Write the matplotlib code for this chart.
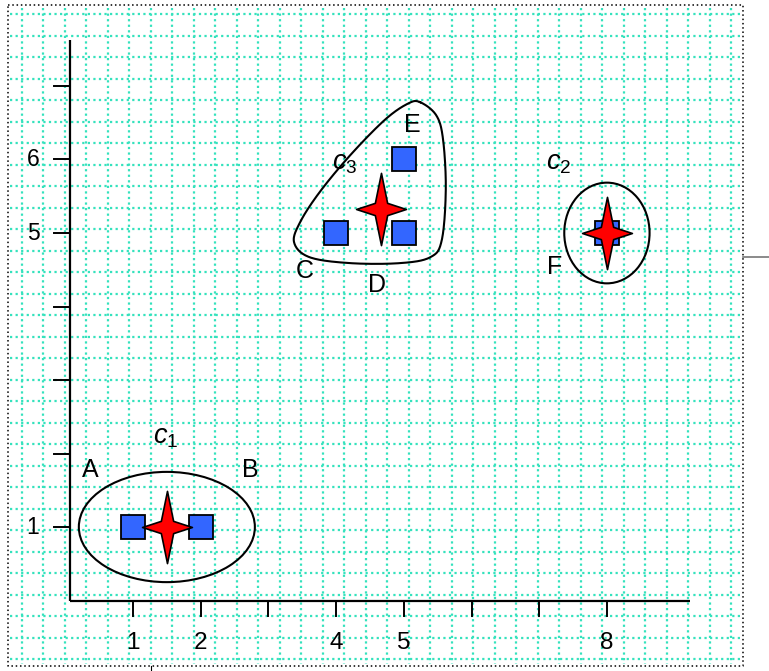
import numpy as np
import matplotlib
matplotlib.use("Agg")
import matplotlib.pyplot as plt
from matplotlib.path import Path
from matplotlib.patches import Ellipse
from matplotlib.lines import Line2D
from matplotlib.transforms import Affine2D, IdentityTransform

plt.rcParams['font.family'] = ['Liberation Sans', 'DejaVu Sans']
plt.rcParams['mathtext.fontset'] = 'custom'
plt.rcParams['mathtext.it'] = 'Liberation Sans:italic'
plt.rcParams['mathtext.rm'] = 'Liberation Sans'

# points
names = ['A', 'B', 'C', 'D', 'E', 'F']
xs = [1, 2, 4, 5, 5, 8]
ys = [1, 1, 5, 5, 6, 5]
# cluster membership (index into points)
c1_idx = [0, 1]
c2_idx = [5]
c3_idx = [2, 3, 4]
# where the point letters sit
name_x = [0.37, 2.74, 3.54, 4.61, 5.12, 7.23]
name_y = [1.78, 1.78, 4.48, 4.29, 6.47, 4.54]
# cluster labels
clab = ['$c_1$', '$c_2$', '$c_3$']
clab_x = [1.48, 7.28, 4.13]
clab_y = [2.22, 5.95, 5.95]
# outline of c3 (rough hand drawn loop)
c3_outline = [(5.24, 6.78), (5.48, 6.60), (5.58, 6.27), (5.62, 5.59), (5.56, 4.90),
              (5.39, 4.67), (4.94, 4.59), (4.21, 4.59), (3.61, 4.67), (3.38, 4.87),
              (3.47, 5.15), (3.76, 5.56), (4.21, 6.06), (4.72, 6.54), (5.06, 6.76)]
xticks = [1, 2, 3, 4, 5, 6, 7, 8]
xticklabels = ['1', '2', '', '4', '5', '', '', '8']
yticks = [1, 2, 3, 4, 5, 6, 7]
yticklabels = ['1', '', '', '', '5', '6', '']

W, H = 769, 671


def closed_spline(pts, n=24):
    P = np.array(pts)
    m = len(P)
    t = np.linspace(0, 1, n, endpoint=False)[:, None]
    out = []
    for i in range(m):
        p0, p1, p2, p3 = P[i - 1], P[i], P[(i + 1) % m], P[(i + 2) % m]
        out.append(0.5 * (2 * p1 + (-p0 + p2) * t + (2 * p0 - 5 * p1 + 4 * p2 - p3) * t ** 2
                          + (-p0 + 3 * p1 - 3 * p2 + p3) * t ** 3))
    out = np.vstack(out)
    return np.vstack([out, out[:1]])


# 4 pointed star marker (straight edges, like the office shape)
w, k = 0.69, 0.17
star = Path([(0, 1), (k, k), (w, 0), (k, -k), (0, -1), (-k, -k), (-w, 0), (-k, k), (0, 1)],
            [Path.MOVETO] + [Path.LINETO] * 7 + [Path.CLOSEPOLY])

fig = plt.figure(figsize=(W / 100, H / 100), dpi=100)
ax = fig.add_axes([0, 0, 1, 1])
ax.set_xlim(-0.9645, 10.394)
ax.set_ylim(-0.959, 8.170)
ax.axis('off')

# background grid + border, in pixels from top-left
pix = Affine2D().scale(1, -1).translate(0, H) + IdentityTransform()
gcol = '#35e2bd'
for i in range(34):
    x = 21.7 + 21.5 * i
    fig.add_artist(Line2D([x, x], [8, 664], transform=pix, color=gcol, lw=1.6,
                          ls=(0, (1, 1.5)), zorder=0))
for i in range(31):
    y = 14 + 21.5 * i
    fig.add_artist(Line2D([10, 741], [y, y], transform=pix, color=gcol, lw=1.6,
                          ls=(0, (1, 1.5)), zorder=0))
fig.add_artist(Line2D([8, 743, 743, 8, 8], [5, 5, 666, 666, 5], transform=pix, color='black',
                      lw=1.1, ls=(0, (1, 1.8)), zorder=1))
fig.add_artist(Line2D([743, 769], [256.5, 256.5], transform=pix, color='#777777', lw=1.2))
fig.add_artist(Line2D([151, 151], [666, 671], transform=pix, color='black', lw=0.8))

# axes drawn by hand
ax.plot([0.069, 0.069], [0, 7.63], color='black', lw=1.6, solid_capstyle='butt')
ax.plot([0.069, 9.23], [0, 0], color='black', lw=1.6, solid_capstyle='butt')
for t, lab in zip(xticks, xticklabels):
    ax.plot([t, t], [0, -0.21], color='black', lw=1.4)
    if lab:
        ax.text(t, -0.58, lab, ha='center', va='center', fontsize=17.5)
for t, lab in zip(yticks, yticklabels):
    ax.plot([-0.167, 0.069], [t, t], color='black', lw=1.4)
    if lab:
        ax.text(-0.477, t, lab, ha='center', va='center', fontsize=16.5)

# cluster outlines
cents = [np.mean(np.array([xs, ys])[:, idx], axis=1) for idx in (c1_idx, c2_idx, c3_idx)]
ax.add_patch(Ellipse(cents[0], 2.60, 1.50, fill=False, ec='black', lw=1.5))
ax.add_patch(Ellipse(cents[1], 1.26, 1.37, fill=False, ec='black', lw=1.5))
loop = closed_spline(c3_outline)
ax.plot(loop[:, 0], loop[:, 1], color='black', lw=1.5)

# points and centroids
ax.plot(xs, ys, 's', ms=17, mfc='#3366ff', mec='black', mew=1.3, zorder=5)
for cx, cy in cents:
    ax.plot(cx, cy, marker=star, ms=52, mfc='#ff0000', mec='black', mew=1.2, zorder=6)

for n, x, y in zip(names, name_x, name_y):
    ax.text(x, y, n, ha='center', va='center', fontsize=18)
for lab, x, y in zip(clab, clab_x, clab_y):
    ax.text(x, y, lab, ha='center', va='center', fontsize=19.5)

fig.savefig('out.png', dpi=100)
